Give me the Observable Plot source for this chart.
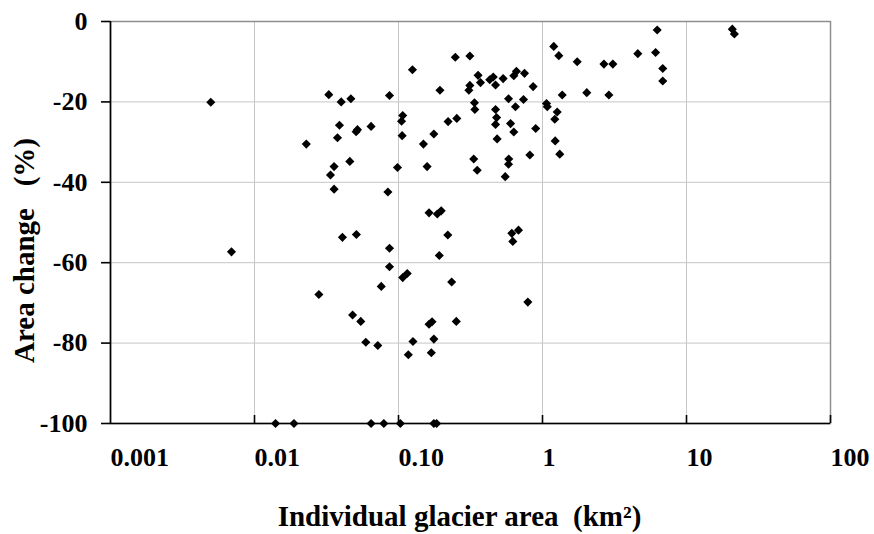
<!DOCTYPE html>
<html>
<head>
<meta charset="utf-8">
<script src="https://cdn.jsdelivr.net/npm/d3@7"></script>
<script src="https://cdn.jsdelivr.net/npm/@observablehq/plot@0.6"></script>
<style>
  html, body { margin: 0; padding: 0; background: #fff; }
</style>
</head>
<body>
<div id="chart"></div>
<script>
// Individual glacier area (km²) and its relative area change (%)
const area = [
  0.0328, 0.040, 0.0467, 0.0866, 0.125, 0.194, 0.248, 0.313, 0.357, 0.371,
  0.313, 0.308, 0.430, 0.455, 0.472, 0.533, 0.632, 0.659, 0.750, 0.861,
  0.581, 0.649, 0.738, 0.337, 0.339, 0.472, 0.480, 0.472, 0.600, 0.632,
  0.897, 0.484, 1.066, 1.079, 1.265, 1.217, 1.371, 1.197, 1.298, 1.742,
  1.225, 1.318, 0.817, 0.583, 0.581, 0.551, 0.333, 0.352, 0.158, 0.149,
  0.176, 0.221, 0.254, 0.107, 0.105, 0.106, 0.0984, 0.0844, 0.0645, 0.0519,
  0.0508, 0.0389, 0.0377, 0.0229, 0.0459, 0.0357, 0.0337, 0.0357,
  0.163, 0.186, 0.198, 0.220, 0.192, 0.0408, 0.0510, 0.0866, 0.0866, 0.107,
  0.115, 0.0759, 0.0280, 0.234, 0.791, 0.612, 0.681, 0.622, 0.0480, 0.0547,
  0.0593, 0.0718, 0.126, 0.117, 0.163, 0.171, 0.176, 0.169, 0.252,
  2.67, 3.08, 4.59, 6.10, 6.26, 6.84, 6.84, 2.03, 2.89, 20.8, 21.5,
  0.00497, 0.00692,
  0.0140, 0.0188, 0.0645, 0.0791, 0.103, 0.176, 0.184
];
const change = [
  -18.2, -20.0, -19.2, -18.4, -12.0, -17.1, -8.9, -8.6, -13.4, -15.2,
  -15.9, -17.1, -14.5, -13.8, -15.8, -14.2, -13.5, -12.4, -12.9, -16.2,
  -19.2, -21.2, -19.4, -20.2, -21.9, -21.9, -23.9, -25.6, -25.4, -27.5,
  -26.6, -29.2, -20.4, -21.2, -22.5, -24.3, -18.3, -6.2, -8.5, -10.0,
  -29.7, -33.0, -33.2, -34.2, -35.5, -38.6, -34.2, -37.0, -36.1, -30.5,
  -28.0, -24.9, -24.1, -23.4, -24.8, -28.4, -36.3, -42.4, -26.1, -26.9,
  -27.4, -25.8, -28.9, -30.5, -34.8, -36.1, -38.2, -41.7,
  -47.6, -47.9, -47.1, -53.1, -58.2, -53.7, -53.0, -56.4, -61.0, -63.7,
  -62.7, -65.9, -67.9, -64.8, -69.8, -52.7, -51.9, -54.7, -73.0, -74.6,
  -79.8, -80.6, -79.6, -82.9, -75.3, -74.7, -79.0, -82.4, -74.6,
  -10.6, -10.6, -8.0, -7.7, -2.1, -11.7, -14.8, -17.7, -18.3, -1.9, -3.1,
  -20.1, -57.3,
  -100, -100, -100, -100, -100, -100, -100
];

// Axis ticks and their printed labels
const xTicks = [0.001, 0.01, 0.1, 1, 10, 100];
const xTickLabels = ["0.001", "0.01", "0.10", "1", "10", "100"];
const yTicks = [0, -20, -40, -60, -80, -100];

const xTitle = "Individual glacier area\u00a0\u00a0(km²)";
const yTitle = "Area change\u00a0\u00a0\u00a0(%)";

const glaciers = area.map((a, i) => ({area: a, change: change[i]}));
const xLabelRows = xTicks.map((t, i) => ({value: t, label: xTickLabels[i]}));

const font = "'Liberation Serif', 'Times New Roman', serif";
const gridColor = "#c6c6c6";

const chart = Plot.plot({
  width: 874,
  height: 534,
  marginLeft: 110,
  marginRight: 44,
  marginTop: 21,
  marginBottom: 111,
  style: {fontFamily: font, fontWeight: "bold", fontSize: "26px", color: "black", background: "white"},
  x: {type: "log", domain: [0.001, 100], axis: null},
  y: {domain: [-100, 0], axis: null},
  marks: [
    Plot.gridX(xTicks.slice(1, -1), {stroke: gridColor, strokeOpacity: 1, strokeWidth: 1}),
    Plot.gridY(yTicks.slice(1, -1), {stroke: gridColor, strokeOpacity: 1, strokeWidth: 1}),
    Plot.frame({stroke: "#8e8e8e", strokeWidth: 1.5}),
    Plot.ruleX([0.001], {stroke: "black", strokeWidth: 1.6}),
    Plot.ruleY([-100], {stroke: "black", strokeWidth: 1.6}),
    // short inward ticks on the bottom axis
    Plot.tickX(xTicks.slice(1), {x: (d) => d, insetTop: 394, stroke: "black", strokeWidth: 1.6}),
    // bottom tick labels, left-aligned on their ticks
    Plot.text(xLabelRows, {
      x: "value",
      text: "label",
      frameAnchor: "bottom",
      dy: 42,
      textAnchor: "start",
      lineAnchor: "bottom",
      fontSize: 26,
      fontWeight: "bold"
    }),
    Plot.axisY({
      ticks: yTicks,
      tickFormat: (d) => String(d),
      tickSize: 9,
      tickPadding: 14,
      strokeWidth: 1.6,
      fontSize: 26,
      fontWeight: "bold",
      label: null
    }),
    Plot.dot(glaciers, {
      x: "area",
      y: "change",
      symbol: "diamond2",
      r: 4.1,
      fill: "black",
      stroke: "none"
    }),
    Plot.text([xTitle], {
      text: (d) => d,
      frameAnchor: "bottom",
      dx: -11,
      dy: 102,
      lineAnchor: "bottom",
      fontSize: 29,
      fontWeight: "bold"
    }),
    Plot.text([yTitle], {
      text: (d) => d,
      frameAnchor: "left",
      rotate: -90,
      dx: -77,
      dy: 28,
      textAnchor: "middle",
      lineAnchor: "bottom",
      fontSize: 29,
      fontWeight: "bold"
    })
  ]
});

document.getElementById("chart").appendChild(chart);
</script>
</body>
</html>
